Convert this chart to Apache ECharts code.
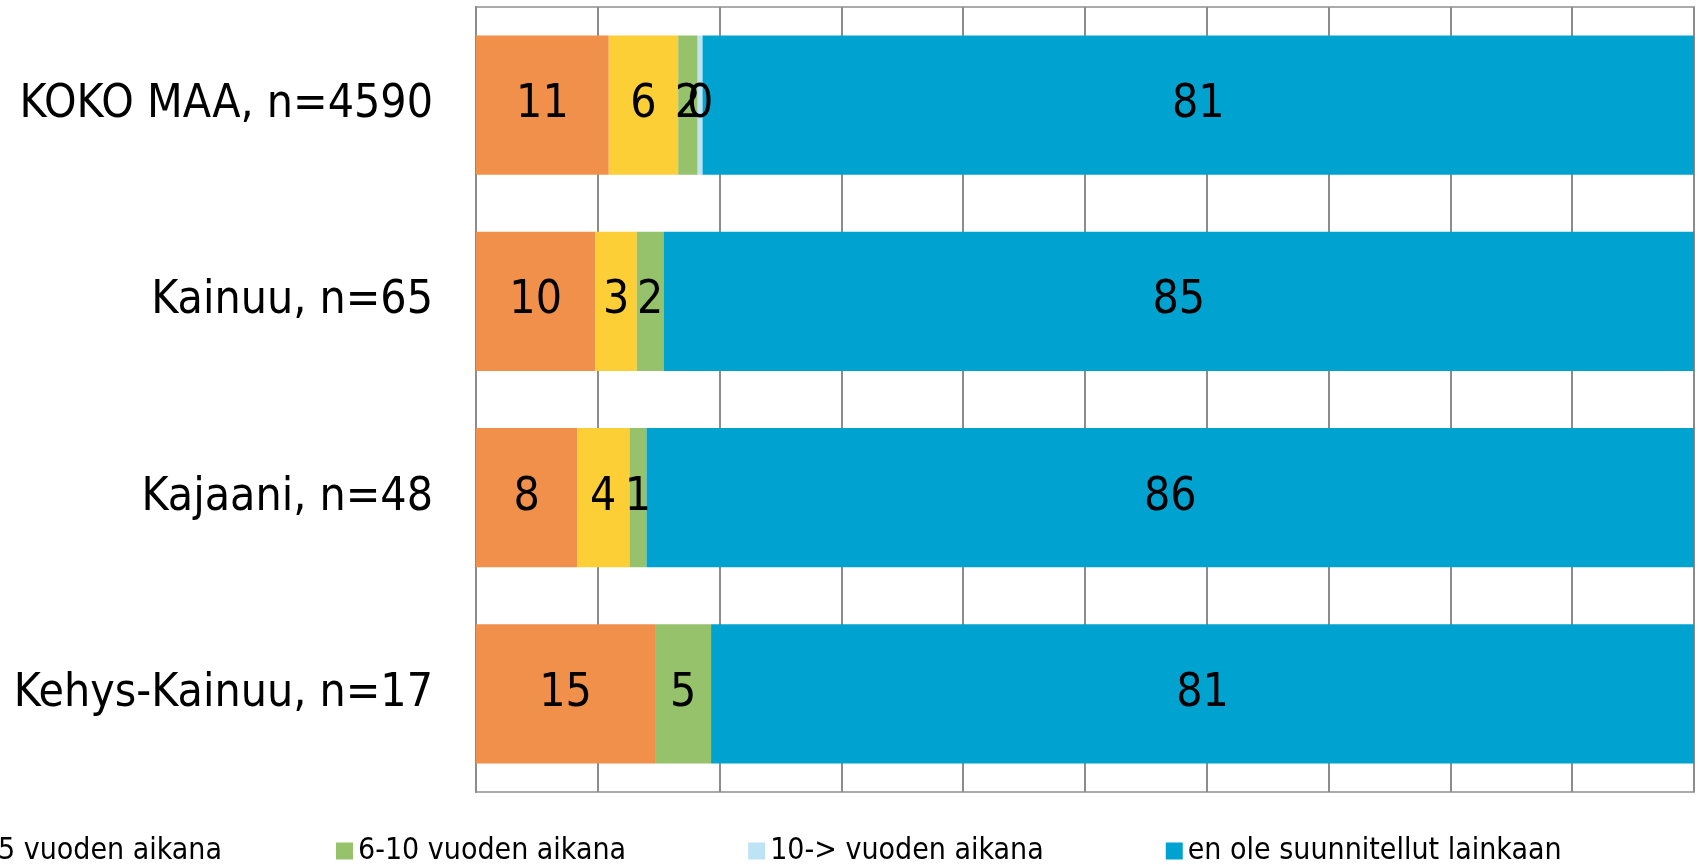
<!DOCTYPE html>
<html>
<head>
<meta charset="utf-8">
<script src="https://cdn.jsdelivr.net/npm/echarts@6/dist/echarts.min.js"></script>
<style>
html,body{margin:0;padding:0;background:#fff;}
#chart{width:1698px;height:865px;}
</style>
</head>
<body>
<div id="chart"></div>
<script>
// alueet (ylhäältä alas)
var categories = ['KOKO MAA, n=4590', 'Kainuu, n=65', 'Kajaani, n=48', 'Kehys-Kainuu, n=17'];
var seriesNames = ['1-2 vuoden aikana', '3-5 vuoden aikana', '6-10 vuoden aikana', '10-> vuoden aikana', 'en ole suunnitellut lainkaan'];
// osuudet % (luettu kuvasta)
var v12 = [10.9, 9.8, 8.3, 14.7];
var v35 = [5.7, 3.4, 4.3, 0];
var v610 = [1.6, 2.2, 1.4, 4.6];
var v10 = [0.4, 0, 0, 0];
var vEi = [81.4, 84.6, 86.0, 80.7];
var xTicks = [0, 10, 20, 30, 40, 50, 60, 70, 80, 90, 100];

var colors = ['#F0904A', '#FDCF36', '#95C26B', '#BDE3F5', '#00A3D0'];
var font = 'DejaVu Sans Condensed, DejaVu Sans';
var allData = [v12, v35, v610, v10, vEi];

var series = seriesNames.map(function (name, i) {
    return {
        name: name,
        type: 'bar',
        stack: 'all',
        barCategoryGap: '29%',
        itemStyle: { color: colors[i] },
        label: {
            show: true,
            position: 'inside',
            color: '#000',
            fontFamily: font,
            fontSize: 46,
            formatter: function (p) {
                if (p.value === 0) { return ''; }
                return Math.round(p.value);
            }
        },
        data: allData[i]
    };
});

var legendText = { color: '#000', fontFamily: font, fontSize: 30 };

var option = {
    animation: false,
    color: colors,
    grid: {
        left: 476,
        right: 4,
        top: 7,
        bottom: 73,
        show: true,
        borderColor: '#ababab',
        borderWidth: 2
    },
    legend: [{
        // kaksi ensimmäistä jäävät osittain kuvan ulkopuolelle
        data: seriesNames.slice(0, 2),
        right: 1476,
        width: 900,
        top: 836,
        padding: 0,
        itemWidth: 17,
        itemHeight: 17,
        itemGap: 122,
        icon: 'rect',
        textStyle: legendText
    }, {
        data: seriesNames.slice(2),
        left: 336,
        width: 1500,
        top: 836,
        padding: 0,
        itemWidth: 17,
        itemHeight: 17,
        itemGap: 122,
        icon: 'rect',
        textStyle: legendText
    }],
    xAxis: {
        type: 'value',
        min: xTicks[0],
        max: xTicks[xTicks.length - 1],
        interval: 10,
        axisLabel: { show: false },
        axisLine: { show: false },
        axisTick: { show: false },
        splitLine: { lineStyle: { color: '#8c8c8c', width: 2 } }
    },
    yAxis: {
        type: 'category',
        inverse: true,
        data: categories,
        axisTick: { show: false },
        axisLine: { lineStyle: { color: '#8c8c8c', width: 2 } },
        axisLabel: {
            color: '#000',
            fontFamily: font,
            fontSize: 46,
            margin: 43
        }
    },
    series: series
};

var chart = echarts.init(document.getElementById('chart'));
chart.setOption(option, true);
</script>
</body>
</html>
